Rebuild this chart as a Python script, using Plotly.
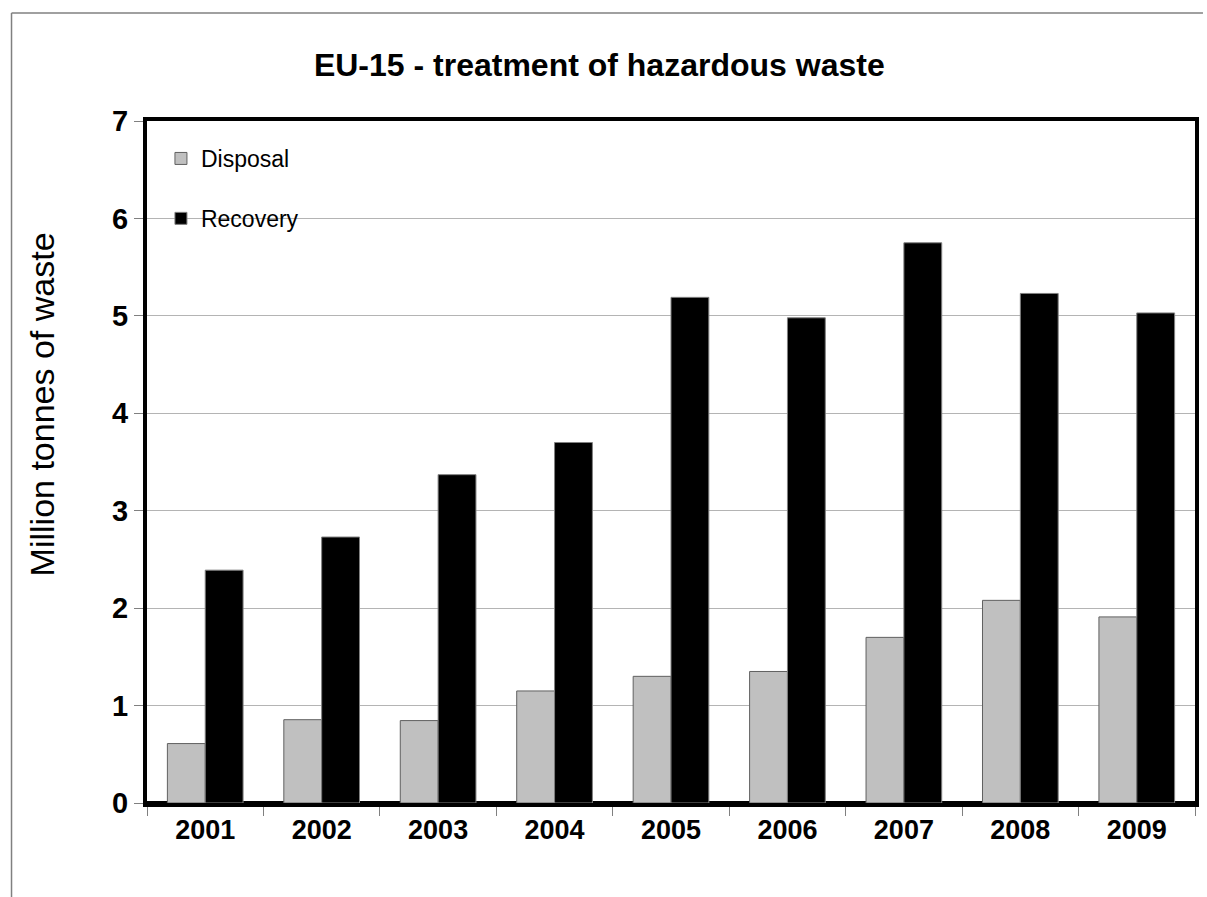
import plotly.graph_objects as go

years = ["2001", "2002", "2003", "2004", "2005", "2006", "2007", "2008", "2009"]
disposal = [0.61, 0.855, 0.846, 1.15, 1.30, 1.35, 1.70, 2.08, 1.91]
recovery = [2.39, 2.73, 3.37, 3.70, 5.19, 4.98, 5.75, 5.23, 5.03]

W, H = 1207, 897
L, R, T, B = 147, 1199, 121, 803

def px_x(p):
    return (p - L) / (R - L)

def px_y(p):
    return (B - p) / (B - T)

FONT = "Liberation Sans, Arial, sans-serif"

fig = go.Figure()
fig.add_trace(go.Bar(
    x=years, y=disposal, name="Disposal", legendgroup="d",
    marker=dict(color="#c0c0c0", line=dict(color="#606060", width=1)),
))
fig.add_trace(go.Bar(
    x=years, y=recovery, name="Recovery", legendgroup="r",
    marker=dict(color="#000000", line=dict(color="#808080", width=1)),
))

fig.update_layout(
    width=W, height=H,
    margin=dict(l=L, r=W - R, t=T, b=H - B, pad=0),
    paper_bgcolor="white", plot_bgcolor="white",
    barmode="group", bargap=0.35, bargroupgap=0,
    font=dict(family=FONT, color="black"),
    title=dict(text="<b>EU-15 - treatment of hazardous waste</b>",
               x=px_x(601), xref="paper", xanchor="center",
               y=1 - 65 / H, yanchor="middle",
               font=dict(size=32, color="black")),
    showlegend=True,
    legend=dict(x=px_x(161), y=px_y(137), xanchor="left", yanchor="top",
                bgcolor="rgba(0,0,0,0)", font=dict(size=23),
                traceorder="grouped", tracegroupgap=27,
                itemwidth=30),
    xaxis=dict(
        type="category", showline=True, linewidth=4, linecolor="black",
        mirror=True, ticks="outside", tickson="boundaries", ticklen=9,
        tickcolor="#808080", tickwidth=1, showgrid=False,
        tickfont=dict(size=27, color="black", family=FONT),
        tickprefix="<b>", ticksuffix="</b>",
    ),
    yaxis=dict(
        range=[0, 7], dtick=1, showline=True, linewidth=4, linecolor="black",
        mirror=True, ticks="outside", ticklen=9, tickcolor="#808080",
        tickwidth=1, showgrid=True, gridcolor="#b4b4b4", gridwidth=1,
        zeroline=True, zerolinecolor="black", zerolinewidth=4,
        tickfont=dict(size=29, color="black"),
        tickprefix="<b>", ticksuffix="</b>",
    ),
)

fig.add_annotation(
    text="Million tonnes of waste", xref="paper", yref="paper",
    x=px_x(42), y=px_y(404), xanchor="center", yanchor="middle",
    textangle=-90, showarrow=False, font=dict(size=34, color="black"),
)

# outer chart border (top and left)
fig.add_shape(type="line", xref="paper", yref="paper",
              x0=px_x(11), x1=px_x(1207), y0=px_y(13), y1=px_y(13),
              line=dict(color="#808080", width=1.5))
fig.add_shape(type="line", xref="paper", yref="paper",
              x0=px_x(11), x1=px_x(11), y0=px_y(13), y1=px_y(897),
              line=dict(color="#808080", width=1.5))

fig.write_html("out.html", config={"displayModeBar": False},
               post_script="document.body.style.margin='0';document.body.style.overflow='hidden';")
